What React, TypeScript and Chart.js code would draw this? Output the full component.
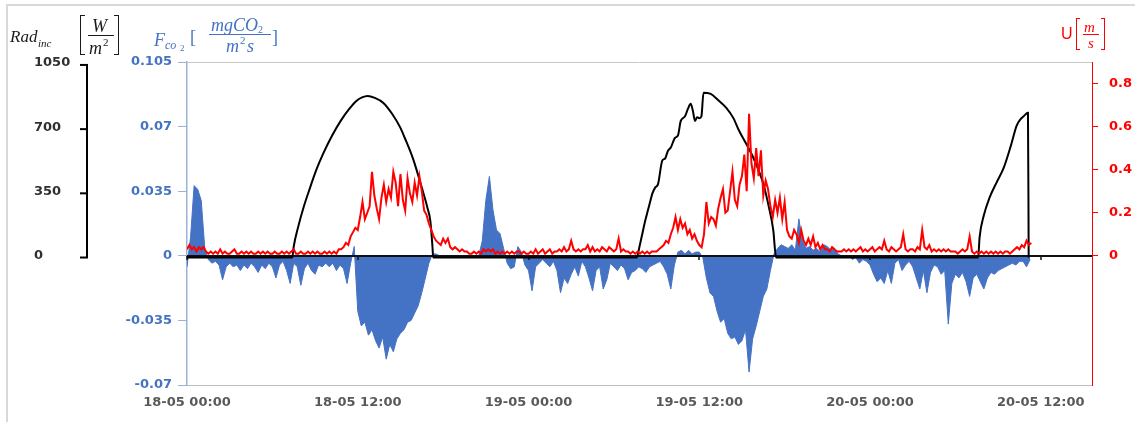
import React, { useEffect, useRef } from "react";
import { Chart, registerables } from "chart.js";
Chart.register(...registerables);

// ---------- data ----------
const FCO2_STEP_H = 0.25; // sampling step (hours) of the Fco2 series
const U_STEP_H = 1 / 6; // sampling step (hours) of the U series (10 min)

const xTickHours = [0, 12, 24, 36, 48, 60];
const xTickLabels = ["18-05 00:00", "18-05 12:00", "19-05 00:00", "19-05 12:00", "20-05 00:00", "20-05 12:00"];

const fco2Ticks = [-0.07, -0.035, 0, 0.035, 0.07, 0.105];
const fco2TickLabels = ["-0.07", "-0.035", "0", "0.035", "0.07", "0.105"];

const radTicks = [0, 350, 700, 1050];
const radTickLabels = ["0", "350", "700", "1050"];

const uTicks = [0, 0.2, 0.4, 0.6, 0.8];
const uTickLabels = ["0", "0.2", "0.4", "0.6", "0.8"];

// incident radiation (W/m2)
const radHours = [
  0, 7.4, 7.5, 7.8, 8.2, 8.65, 9.1, 9.57, 10.2, 10.8, 11.4, 11.9, 12.3, 12.7, 13.2, 13.8, 14.4, 15.0, 15.3, 15.9, 16.5, 16.9, 17.1, 17.25, 17.3,
  31.6, 31.8, 32.0, 32.2, 32.4, 32.6, 32.7, 32.9, 33.1, 33.4, 33.6, 33.8, 34.0, 34.3, 34.5, 34.7, 35.0, 35.2, 35.4, 35.55, 35.7, 35.85, 36.0, 36.15,
  36.3, 36.8, 37.3, 37.9, 38.4, 38.8, 39.3, 39.8, 40.2, 40.5, 40.9, 41.2, 41.4,
  55.6, 55.7, 56.0, 56.4, 56.9, 57.4, 57.9, 58.3, 58.6, 58.8, 59.1, 59.15,
];
const radValues = [
  0, 0, 60, 163, 275, 381, 480, 566, 665, 745, 810, 854, 873, 881, 870, 843, 785, 707, 653, 535, 381, 270, 200, 60, 0,
  0, 60, 130, 200, 260, 320, 348, 381, 400, 528, 540, 582, 600, 653, 665, 745, 770, 810, 838, 800, 745, 765, 760, 770,
  898, 892, 860, 816, 760, 691, 620, 544, 470, 402, 272, 150, 0,
  0, 110, 230, 326, 410, 490, 610, 718, 756, 770, 789, 0,
];

// CO2 flux (mgCO2/m2s), one value every FCO2_STEP_H hours from 18-05 00:00
const fco2Values = [
  -0.006, 0.010, 0.038, 0.036, 0.030, 0.004, -0.002, -0.004, -0.003, -0.005, -0.013, -0.006,
  -0.004, -0.006, -0.005, -0.008, -0.005, -0.007, -0.004, -0.006, -0.009, -0.005, -0.007, -0.004,
  -0.006, -0.012, -0.005, -0.003, -0.008, -0.015, -0.004, -0.006, -0.016, -0.007, -0.004, -0.008,
  -0.010, -0.005, -0.006, -0.004, -0.006, -0.004, -0.008, -0.005, -0.007, -0.015, -0.004, 0.005,
  -0.030, -0.038, -0.036, -0.043, -0.040, -0.046, -0.050, -0.044, -0.056, -0.048, -0.052, -0.045,
  -0.042, -0.040, -0.036, -0.035, -0.031, -0.027, -0.020, -0.012, -0.004, 0.001, 0.001, 0.000,
  -0.001, 0.000, -0.001, 0.000, 0.000, -0.001, 0.000, 0.000, -0.001, 0.000, 0.000, 0.008,
  0.030, 0.043, 0.025, 0.014, 0.012, 0.004, -0.004, -0.007, -0.006, 0.005, 0.002, -0.005,
  -0.008, -0.019, -0.006, -0.004, -0.002, -0.004, -0.006, -0.003, -0.008, -0.020, -0.012, -0.015,
  -0.010, -0.006, -0.011, -0.003, -0.006, -0.012, -0.019, -0.008, -0.006, -0.018, -0.013, -0.004,
  -0.006, -0.008, -0.005, -0.007, -0.013, -0.009, -0.008, -0.006, -0.007, -0.009, -0.006, -0.005,
  -0.004, -0.003, -0.006, -0.010, -0.018, -0.005, 0.002, 0.003, 0.001, 0.003, 0.001, 0.002,
  0.002, -0.001, -0.012, -0.020, -0.022, -0.030, -0.036, -0.034, -0.042, -0.045, -0.044, -0.048,
  -0.046, -0.040, -0.063, -0.045, -0.038, -0.030, -0.022, -0.018, -0.008, 0.001, 0.004, 0.006,
  0.005, 0.004, 0.006, 0.003, 0.020, 0.008, 0.004, 0.005, 0.003, 0.004, 0.002, 0.006,
  0.005, 0.003, 0.004, 0.001, 0.000, -0.001, 0.000, -0.002, -0.001, -0.004, -0.002, -0.003,
  -0.005, -0.010, -0.014, -0.012, -0.015, -0.008, -0.015, -0.004, -0.002, -0.008, -0.005, -0.003,
  -0.006, -0.012, -0.018, -0.008, -0.020, -0.009, -0.005, -0.006, -0.010, -0.008, -0.037, -0.015,
  -0.010, -0.012, -0.009, -0.014, -0.022, -0.012, -0.010, -0.014, -0.018, -0.012, -0.009, -0.010,
  -0.008, -0.007, -0.006, -0.005, -0.004, -0.005, -0.003, -0.003, -0.006, -0.002,
];

// wind speed U (m/s), one value every U_STEP_H hours from 18-05 00:00 (six per hour)
const uValues = [
  0.03, 0.05, 0.03, 0.04, 0.02, 0.04, // h0
  0.03, 0.04, 0.02, 0.01, 0.02, 0.01,
  0.02, 0.01, 0.03, 0.01, 0.02, 0.01,
  0.01, 0.02, 0.03, 0.01, 0.01, 0.02,
  0.01, 0.02, 0.01, 0.02, 0.01, 0.01,
  0.02, 0.01, 0.02, 0.01, 0.02, 0.01, // h5
  0.01, 0.02, 0.01, 0.01, 0.02, 0.01,
  0.02, 0.01, 0.02, 0.03, 0.01, 0.01,
  0.02, 0.01, 0.01, 0.02, 0.01, 0.02,
  0.01, 0.02, 0.01, 0.01, 0.02, 0.01,
  0.02, 0.01, 0.02, 0.01, 0.03, 0.03, // h10
  0.04, 0.06, 0.05, 0.09, 0.11, 0.13,
  0.12, 0.18, 0.25, 0.17, 0.20, 0.23,
  0.39, 0.28, 0.22, 0.17, 0.27, 0.33,
  0.25, 0.31, 0.27, 0.39, 0.34, 0.23,
  0.38, 0.26, 0.21, 0.36, 0.29, 0.25, // h15
  0.34, 0.28, 0.37, 0.30, 0.21, 0.19,
  0.15, 0.12, 0.09, 0.07, 0.06, 0.05,
  0.08, 0.06, 0.08, 0.04, 0.03, 0.04,
  0.03, 0.02, 0.03, 0.02, 0.02, 0.01,
  0.01, 0.02, 0.01, 0.02, 0.01, 0.03, // h20
  0.02, 0.03, 0.02, 0.03, 0.01, 0.02,
  0.01, 0.02, 0.01, 0.02, 0.01, 0.02,
  0.01, 0.02, 0.02, 0.01, 0.02, 0.01,
  0.01, 0.02, 0.01, 0.03, 0.01, 0.02,
  0.03, 0.01, 0.02, 0.03, 0.01, 0.02, // h25
  0.02, 0.03, 0.02, 0.04, 0.02, 0.03,
  0.07, 0.03, 0.02, 0.03, 0.02, 0.03,
  0.03, 0.05, 0.02, 0.04, 0.02, 0.03,
  0.02, 0.04, 0.03, 0.02, 0.04, 0.03,
  0.02, 0.03, 0.08, 0.02, 0.03, 0.02, // h30
  0.02, 0.01, 0.02, 0.01, 0.02, 0.01,
  0.02, 0.01, 0.02, 0.01, 0.02, 0.02,
  0.02, 0.03, 0.04, 0.05, 0.07, 0.06,
  0.10, 0.13, 0.18, 0.12, 0.17, 0.13,
  0.15, 0.10, 0.12, 0.08, 0.10, 0.07, // h35
  0.05, 0.04, 0.10, 0.25, 0.15, 0.18,
  0.17, 0.14, 0.22, 0.27, 0.31, 0.20,
  0.21, 0.30, 0.39, 0.26, 0.23, 0.33,
  0.37, 0.47, 0.30, 0.66, 0.43, 0.36,
  0.50, 0.37, 0.49, 0.28, 0.35, 0.31, // h40
  0.23, 0.18, 0.26, 0.20, 0.27, 0.17,
  0.25, 0.12, 0.09, 0.08, 0.12, 0.10,
  0.06, 0.12, 0.07, 0.05, 0.08, 0.05,
  0.09, 0.04, 0.06, 0.03, 0.05, 0.03,
  0.03, 0.02, 0.04, 0.03, 0.02, 0.02, // h45
  0.02, 0.03, 0.02, 0.03, 0.02, 0.03,
  0.02, 0.03, 0.04, 0.02, 0.03, 0.02,
  0.03, 0.04, 0.02, 0.03, 0.04, 0.03,
  0.07, 0.03, 0.02, 0.04, 0.03, 0.02,
  0.03, 0.04, 0.10, 0.03, 0.02, 0.03, // h50
  0.03, 0.02, 0.04, 0.03, 0.12, 0.04,
  0.03, 0.05, 0.02, 0.03, 0.02, 0.03,
  0.02, 0.03, 0.02, 0.03, 0.02, 0.02,
  0.02, 0.01, 0.02, 0.03, 0.02, 0.03,
  0.09, 0.02, 0.01, 0.02, 0.01, 0.02, // h55
  0.01, 0.02, 0.01, 0.02, 0.01, 0.02,
  0.01, 0.02, 0.01, 0.02, 0.02, 0.01,
  0.02, 0.03, 0.04, 0.03, 0.05, 0.04,
  0.07, 0.05, 0.06,
];

// ---------- styling ----------
const BLUE = "#4472C4";
const RED = "#FF0000";
const TICK_FONT = '"DejaVu Sans", sans-serif';
const SERIF = '"Liberation Serif", "Times New Roman", serif';

const decorPlugin = {
  id: "decor",
  afterDatasetDraw(chart: any, args: any) {
    if (args.index !== 0) return; // after the Fco2 area
    const { ctx, chartArea: a, scales } = chart;
    const y0 = Math.round(scales.y.getPixelForValue(0));
    ctx.save();
    ctx.strokeStyle = "#111";
    ctx.lineWidth = 2;
    ctx.beginPath();
    ctx.moveTo(a.left, y0);
    ctx.lineTo(a.right, y0);
    ctx.stroke();
    ctx.lineWidth = 1.5;
    xTickHours.forEach((h) => {
      const x = Math.round(scales.x.getPixelForValue(h));
      ctx.beginPath();
      ctx.moveTo(x, y0);
      ctx.lineTo(x, y0 + 4);
      ctx.stroke();
    });
    ctx.restore();
  },
  afterDraw(chart: any) {
    const { ctx, chartArea: a, scales } = chart;
    ctx.save();
    // outer frame
    ctx.strokeStyle = "#D9D9D9";
    ctx.lineWidth = 2;
    ctx.beginPath();
    ctx.moveTo(7, 422);
    ctx.lineTo(7, 5);
    ctx.lineTo(1135, 5);
    ctx.stroke();
    // plot top border
    ctx.strokeStyle = "#C8C8C8";
    ctx.lineWidth = 1;
    ctx.beginPath();
    ctx.moveTo(a.left, a.top + 0.5);
    ctx.lineTo(a.right, a.top + 0.5);
    ctx.stroke();
    // radiation axis (black, far left)
    const r = scales.yRad;
    const ax = 87;
    ctx.strokeStyle = "#000";
    ctx.lineWidth = 2;
    ctx.beginPath();
    ctx.moveTo(ax, r.getPixelForValue(1050));
    ctx.lineTo(ax, r.getPixelForValue(0));
    ctx.stroke();
    ctx.fillStyle = "#303030";
    ctx.font = `bold 13px ${TICK_FONT}`;
    ctx.textAlign = "left";
    ctx.textBaseline = "middle";
    radTicks.forEach((v, i) => {
      const y = r.getPixelForValue(v);
      ctx.beginPath();
      ctx.moveTo(80, y);
      ctx.lineTo(ax + 1, y);
      ctx.stroke();
      ctx.fillText(radTickLabels[i], 34, y - 2);
    });
    ctx.restore();
  },
};

function Abs(props: { left: number; top: number; style?: any; children: any }) {
  return (
    <span
      style={{
        position: "absolute",
        left: props.left,
        top: props.top,
        lineHeight: 1,
        whiteSpace: "nowrap",
        ...props.style,
      }}
    >
      {props.children}
    </span>
  );
}

function Bracket(props: { left: number; top: number; height: number; color: string; side: "l" | "r"; w?: number }) {
  const b = `1.6px solid ${props.color}`;
  return (
    <div
      style={{
        position: "absolute",
        left: props.left,
        top: props.top,
        width: props.w ?? 4,
        height: props.height,
        borderTop: b,
        borderBottom: b,
        borderLeft: props.side === "l" ? b : "none",
        borderRight: props.side === "r" ? b : "none",
        boxSizing: "border-box",
      }}
    />
  );
}

function Bar(props: { left: number; top: number; width: number; color: string }) {
  return (
    <div
      style={{ position: "absolute", left: props.left, top: props.top, width: props.width, height: 1, background: props.color }}
    />
  );
}

export default function App() {
  const ref = useRef<HTMLCanvasElement>(null);

  useEffect(() => {
    document.body.style.margin = "0";
    const canvas = ref.current;
    if (!canvas) return;
    const fco2Data = fco2Values.map((v, i) => ({ x: i * FCO2_STEP_H, y: v }));
    const uData = uValues.map((v, i) => ({ x: i * U_STEP_H, y: v }));
    const radData = radHours.map((h, i) => ({ x: h, y: radValues[i] }));

    const chart = new Chart(canvas, {
      type: "line",
      data: {
        datasets: [
          {
            label: "Fco2",
            data: fco2Data,
            yAxisID: "y",
            borderColor: BLUE,
            backgroundColor: BLUE,
            borderWidth: 1,
            fill: "origin",
            pointRadius: 0,
            tension: 0,
            order: 3,
          },
          {
            label: "Rad",
            data: radData,
            yAxisID: "yRad",
            borderColor: "#000",
            borderWidth: 2,
            fill: false,
            pointRadius: 0,
            cubicInterpolationMode: "monotone",
            order: 2,
          },
          {
            label: "U",
            data: uData,
            yAxisID: "yU",
            borderColor: RED,
            borderWidth: 2,
            fill: false,
            pointRadius: 0,
            tension: 0,
            order: 1,
          },
        ],
      },
      options: {
        responsive: false,
        maintainAspectRatio: false,
        devicePixelRatio: 1,
        animation: false,
        events: [],
        layout: { padding: { left: 100, top: 62, right: 0, bottom: 0 } },
        plugins: { legend: { display: false }, tooltip: { enabled: false } },
        scales: {
          x: {
            type: "linear",
            position: "bottom",
            min: 0,
            max: 63.6,
            afterBuildTicks: (s: any) => {
              s.ticks = xTickHours.map((v) => ({ value: v }));
            },
            ticks: {
              autoSkip: false,
              maxRotation: 0,
              padding: 10,
              color: "#595959",
              font: { family: TICK_FONT, size: 13, weight: "bold" },
              callback: (v: any) => xTickLabels[xTickHours.indexOf(Number(v))] ?? "",
            },
            grid: { display: false, drawTicks: false },
            border: { display: true, color: "#BFBFBF", width: 1 },
            afterFit: (s: any) => {
              s.height = 37;
            },
          },
          y: {
            type: "linear",
            position: "left",
            min: -0.07,
            max: 0.105,
            afterBuildTicks: (s: any) => {
              s.ticks = fco2Ticks.map((v) => ({ value: v }));
            },
            ticks: {
              padding: 6,
              color: BLUE,
              font: { family: TICK_FONT, size: 13, weight: "bold" },
              callback: (_v: any, i: number) => fco2TickLabels[i],
            },
            grid: { drawOnChartArea: false, tickLength: 9, color: "#9DB1D6" },
            border: { display: true, color: "#9DB1D6", width: 1.5 },
            afterFit: (s: any) => {
              s.width = 87;
            },
          },
          yRad: {
            type: "linear",
            display: false,
            min: -695,
            max: 1066,
          },
          yU: {
            type: "linear",
            position: "right",
            min: -0.6,
            max: 0.9,
            afterBuildTicks: (s: any) => {
              s.ticks = uTicks.map((v) => ({ value: v }));
            },
            ticks: {
              padding: 11,
              color: RED,
              font: { family: TICK_FONT, size: 13, weight: "bold" },
              callback: (_v: any, i: number) => uTickLabels[i],
            },
            grid: { drawOnChartArea: false, tickLength: 6, color: RED },
            border: { display: true, color: RED, width: 1 },
            afterFit: (s: any) => {
              s.width = 43;
            },
          },
        },
      },
      plugins: [decorPlugin],
    } as any);
    return () => chart.destroy();
  }, []);

  const ink = "#1a1a1a";
  return (
    <div style={{ position: "relative", width: 1135, height: 422, background: "#fff", overflow: "hidden" }}>
      <canvas ref={ref} width={1135} height={422} style={{ position: "absolute", left: 0, top: 0 }} />

      {/* Rad_inc [W/m2] */}
      <Abs left={10} top={27} style={{ font: `italic 17px ${SERIF}`, color: ink }}>Rad</Abs>
      <Abs left={38} top={37} style={{ font: `italic 11px ${SERIF}`, color: ink }}>inc</Abs>
      <Bracket left={80} top={15} height={40} color={ink} side="l" w={5} />
      <Abs left={92} top={16} style={{ font: `italic 18px ${SERIF}`, color: ink }}>W</Abs>
      <Bar left={88} top={35} width={26} color={ink} />
      <Abs left={89} top={38} style={{ font: `italic 18px ${SERIF}`, color: ink }}>m</Abs>
      <Abs left={103} top={36} style={{ font: `11px ${SERIF}`, color: ink }}>2</Abs>
      <Bracket left={114} top={15} height={40} color={ink} side="r" w={5} />

      {/* F_co2 [mgCO2 / m2 s] */}
      <Abs left={154} top={30} style={{ font: `italic 18px ${SERIF}`, color: BLUE }}>F</Abs>
      <Abs left={165} top={38} style={{ font: `italic 12px ${SERIF}`, color: BLUE }}>co</Abs>
      <Abs left={180} top={43} style={{ font: `9px ${SERIF}`, color: BLUE }}>2</Abs>
      <Abs left={190} top={27} style={{ font: `18px ${SERIF}`, color: BLUE }}>[</Abs>
      <Abs left={211} top={15} style={{ font: `italic 18px ${SERIF}`, color: BLUE }}>mgCO</Abs>
      <Abs left={258} top={24} style={{ font: `10px ${SERIF}`, color: BLUE }}>2</Abs>
      <Bar left={209} top={34} width={62} color={BLUE} />
      <Abs left={226} top={36} style={{ font: `italic 18px ${SERIF}`, color: BLUE }}>m</Abs>
      <Abs left={240} top={34} style={{ font: `11px ${SERIF}`, color: BLUE }}>2</Abs>
      <Abs left={247} top={36} style={{ font: `italic 18px ${SERIF}`, color: BLUE }}>s</Abs>
      <Abs left={272} top={27} style={{ font: `18px ${SERIF}`, color: BLUE }}>]</Abs>

      {/* U [m/s] */}
      <Abs left={1061} top={25} style={{ font: `16px "Liberation Sans", sans-serif`, color: RED }}>U</Abs>
      <Bracket left={1076} top={18} height={32} color={RED} side="l" />
      <Abs left={1084} top={19} style={{ font: `italic 15px ${SERIF}`, color: RED }}>m</Abs>
      <Bar left={1083} top={34} width={16} color={RED} />
      <Abs left={1088} top={35} style={{ font: `italic 15px ${SERIF}`, color: RED }}>s</Abs>
      <Bracket left={1101} top={18} height={32} color={RED} side="r" />
    </div>
  );
}
